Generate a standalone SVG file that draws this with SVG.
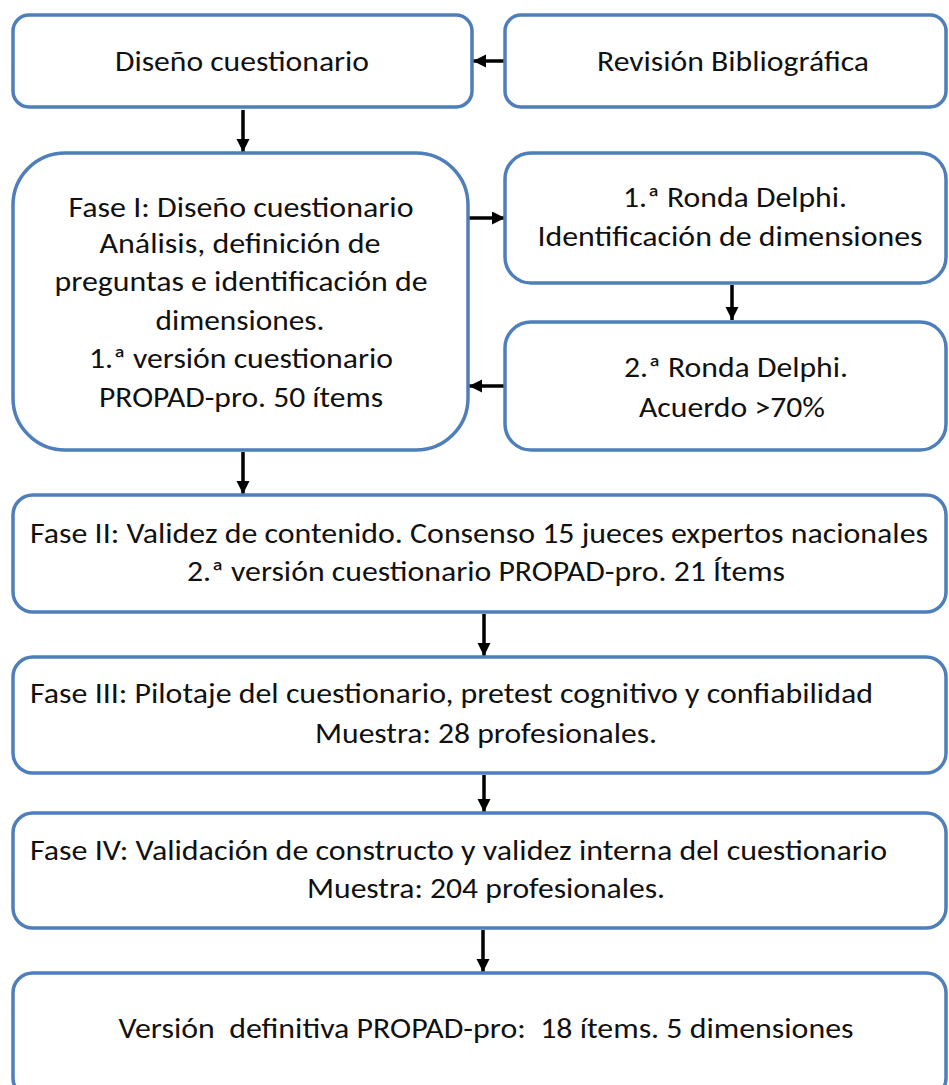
<svg xmlns="http://www.w3.org/2000/svg" width="949" height="1085" viewBox="0 0 949 1085">
<style>
.box{fill:#fff;stroke:#4f7fbb;stroke-width:3.5}
.t{font-family:Carlito,Lato,"Open Sans",sans-serif;font-size:28.5px;fill:#111}
.c{text-anchor:middle}
.conn{stroke:#000;stroke-width:3.5;fill:none;marker-end:url(#ah)}
</style>
<defs>
<marker id="ah" markerUnits="userSpaceOnUse" markerWidth="15" markerHeight="15" refX="13" refY="6.5" orient="auto">
<path d="M0,0 L13,6.5 L0,13 z" fill="#000"/>
</marker>
</defs>
<rect width="949" height="1085" fill="#fff"/>
<g id="connectors">
<line class="conn" x1="505" y1="61" x2="473" y2="61"/>
<line class="conn" x1="243" y1="110" x2="243" y2="152"/>
<line class="conn" x1="469" y1="218" x2="505" y2="218"/>
<line class="conn" x1="732" y1="285" x2="732" y2="320"/>
<line class="conn" x1="505" y1="386" x2="469" y2="386"/>
<line class="conn" x1="243" y1="452" x2="243" y2="494"/>
<line class="conn" x1="484" y1="614" x2="484" y2="656"/>
<line class="conn" x1="484" y1="775" x2="484" y2="812"/>
<line class="conn" x1="483" y1="930" x2="483" y2="972"/>
</g>
<g id="diseno">
<rect class="box" x="13" y="15" width="459" height="92" rx="16"/>
<text class="t c" x="242" y="71" textLength="254" lengthAdjust="spacingAndGlyphs">Diseño cuestionario</text>
</g>
<g id="revision">
<rect class="box" x="505" y="15" width="441" height="92" rx="16"/>
<text class="t c" x="733" y="71" textLength="272" lengthAdjust="spacingAndGlyphs">Revisión Bibliográfica</text>
</g>
<g id="fase1">
<rect class="box" x="13" y="153" width="455" height="297" rx="52"/>
<text class="t c" x="241" y="217" textLength="345" lengthAdjust="spacingAndGlyphs">Fase I: Diseño cuestionario</text>
<text class="t c" x="240" y="253" textLength="281" lengthAdjust="spacingAndGlyphs">Análisis, definición de</text>
<text class="t c" x="241" y="291" textLength="373" lengthAdjust="spacingAndGlyphs">preguntas e identificación de</text>
<text class="t c" x="240" y="330" textLength="169" lengthAdjust="spacingAndGlyphs">dimensiones.</text>
<text class="t c" x="241" y="368" textLength="304" lengthAdjust="spacingAndGlyphs">1.ª versión cuestionario</text>
<text class="t c" x="241" y="407" textLength="284" lengthAdjust="spacingAndGlyphs">PROPAD-pro. 50 ítems</text>
</g>
<g id="ronda1">
<rect class="box" x="505" y="153" width="441" height="130" rx="26"/>
<text class="t c" x="735" y="207" textLength="224" lengthAdjust="spacingAndGlyphs">1.ª Ronda Delphi.</text>
<text class="t c" x="730" y="246" textLength="385" lengthAdjust="spacingAndGlyphs">Identificación de dimensiones</text>
</g>
<g id="ronda2">
<rect class="box" x="505" y="322" width="441" height="128" rx="26"/>
<text class="t c" x="736" y="377" textLength="224" lengthAdjust="spacingAndGlyphs">2.ª Ronda Delphi.</text>
<text class="t c" x="732" y="417" textLength="186" lengthAdjust="spacingAndGlyphs">Acuerdo &gt;70%</text>
</g>
<g id="fase2">
<rect class="box" x="13" y="495" width="933" height="117" rx="20"/>
<text class="t" x="30" y="543" textLength="898" lengthAdjust="spacingAndGlyphs">Fase II: Validez de contenido. Consenso 15 jueces expertos nacionales</text>
<text class="t c" x="486" y="581" textLength="598" lengthAdjust="spacingAndGlyphs">2.ª versión cuestionario PROPAD-pro. 21 Ítems</text>
</g>
<g id="fase3">
<rect class="box" x="13" y="657" width="933" height="116" rx="20"/>
<text class="t" x="30" y="703" textLength="843" lengthAdjust="spacingAndGlyphs">Fase III: Pilotaje del cuestionario, pretest cognitivo y confiabilidad</text>
<text class="t c" x="486" y="743" textLength="342" lengthAdjust="spacingAndGlyphs">Muestra: 28 profesionales.</text>
</g>
<g id="fase4">
<rect class="box" x="13" y="813" width="933" height="115" rx="20"/>
<text class="t" x="30" y="860" textLength="857" lengthAdjust="spacingAndGlyphs">Fase IV: Validación de constructo y validez interna del cuestionario</text>
<text class="t c" x="486" y="898" textLength="358" lengthAdjust="spacingAndGlyphs">Muestra: 204 profesionales.</text>
</g>
<g id="final">
<rect class="box" x="13" y="973" width="933" height="125" rx="20"/>
<text class="t c" x="486" y="1038" textLength="735" lengthAdjust="spacingAndGlyphs" xml:space="preserve">Versión  definitiva PROPAD-pro:  18 ítems. 5 dimensiones</text>
</g>
</svg>
